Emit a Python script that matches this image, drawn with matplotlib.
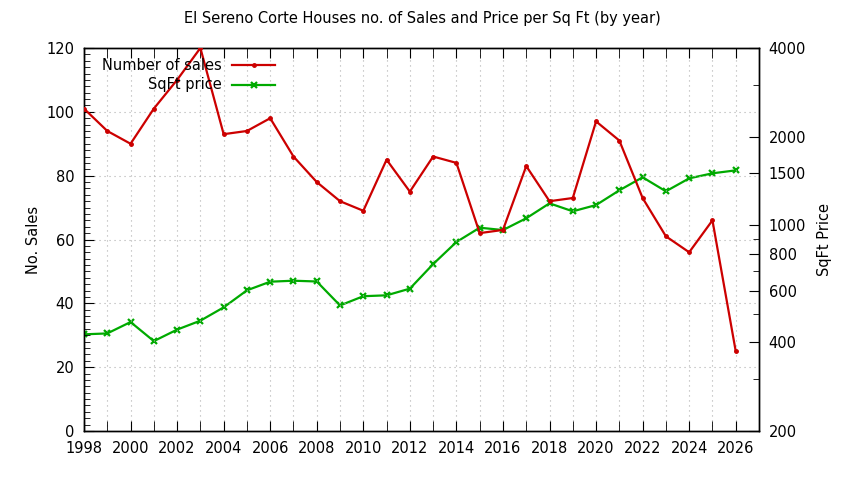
import numpy as np
import matplotlib
matplotlib.use("Agg")
import matplotlib.pyplot as plt
from matplotlib.ticker import FixedLocator, FixedFormatter, NullFormatter, MultipleLocator
from matplotlib.lines import Line2D

# yearly data
years = list(range(1998, 2027))
num_sales = [101, 94, 90, 101, 110, 120, 93, 94, 98, 86, 78, 72, 69, 85, 75,
             86, 84, 62, 63, 83, 72, 73, 97, 91, 73, 61, 56, 66, 25]
sqft_price = [426, 429, 469, 404, 442, 474, 526, 601, 643, 648, 644, 534, 574, 578, 609,
              738, 877, 981, 963, 1056, 1187, 1115, 1171, 1314, 1455, 1304, 1443, 1501, 1536]

x_major = list(range(1998, 2027, 2))
y2_major = [200, 400, 600, 800, 1000, 1500, 2000, 4000]
y2_minor = [300, 500, 700, 900, 3000]

RED = "#cc0000"
GREEN = "#00aa00"
FS = 10.5

plt.rcParams['font.family'] = ['DejaVu Sans']
fig = plt.figure(figsize=(8.44, 4.8), dpi=100)
ax = fig.add_axes([84/844, 49/480, 675/844, 383/480])
ax2 = ax.twinx()

# grid (left axis + every year)
ax.set_xlim(1998, 2027)
ax.set_ylim(0, 120)
ax.xaxis.set_major_locator(FixedLocator(x_major))
ax.xaxis.set_minor_locator(MultipleLocator(1))
ax.yaxis.set_major_locator(MultipleLocator(20))
ax.yaxis.set_minor_locator(MultipleLocator(2))
for y in range(20, 120, 20):
    ax.axhline(y, color="#b0b0b0", lw=0.8, ls=(0, (1, 3.5)), zorder=0)
for yr in range(1999, 2027):
    ax.axvline(yr, color="#b0b0b0", lw=0.8, ls=(0, (1, 3.5)), zorder=0)

ax.tick_params(axis="both", which="both", direction="in", top=True, labelsize=FS)
ax.tick_params(axis="y", which="major", length=7, pad=7, right=False)
ax.tick_params(axis="y", which="minor", length=4, right=False)
ax.tick_params(axis="x", which="major", length=7, pad=7)
ax.tick_params(axis="x", which="minor", length=7)

ax2.set_yscale("log")
ax2.set_ylim(200, 4000)
ax2.yaxis.set_major_locator(FixedLocator(y2_major))
ax2.yaxis.set_major_formatter(FixedFormatter([str(v) for v in y2_major]))
ax2.yaxis.set_minor_locator(FixedLocator(y2_minor))
ax2.yaxis.set_minor_formatter(NullFormatter())
ax2.tick_params(axis="y", which="both", direction="in", labelsize=FS, pad=7)
ax2.tick_params(axis="y", which="major", length=7)
ax2.tick_params(axis="y", which="minor", length=4)

ax2.plot(years, sqft_price, color=GREEN, lw=1.6, marker="x", ms=4, mew=1.6, zorder=3)
ax.plot(years, num_sales, color=RED, lw=1.6, marker="o", ms=2.5, zorder=3)
ax.set_zorder(ax2.get_zorder() + 1)
ax.patch.set_visible(False)

for a in (ax, ax2):
    for s in a.spines.values():
        s.set_linewidth(1.0)

ax.set_ylabel("No. Sales", fontsize=FS, labelpad=4)
ax2.set_ylabel("SqFt Price", fontsize=FS, labelpad=8)
fig.text(0.5, 1 - 18/480, "El Sereno Corte Houses no. of Sales and Price per Sq Ft (by year)",
         ha="center", va="center", fontsize=FS)

# gnuplot-style key: text right aligned, sample to its right
key = [("Number of sales", RED, "o", 2.5), ("SqFt price", GREEN, "x", 4)]
for i, (lab, col, mk, ms) in enumerate(key):
    yk = 0.9556 - i * 0.0522
    ax.text(0.2044, yk, lab, transform=ax.transAxes, ha="right", va="center", fontsize=FS)
    ax.add_line(Line2D([0.2193, 0.283], [yk, yk], transform=ax.transAxes, color=col, lw=1.6))
    ax.add_line(Line2D([0.2512], [yk], transform=ax.transAxes, color=col, marker=mk, ms=ms,
                       mew=1.6 if mk == "x" else 1.0))

fig.savefig("out.png", dpi=100)
